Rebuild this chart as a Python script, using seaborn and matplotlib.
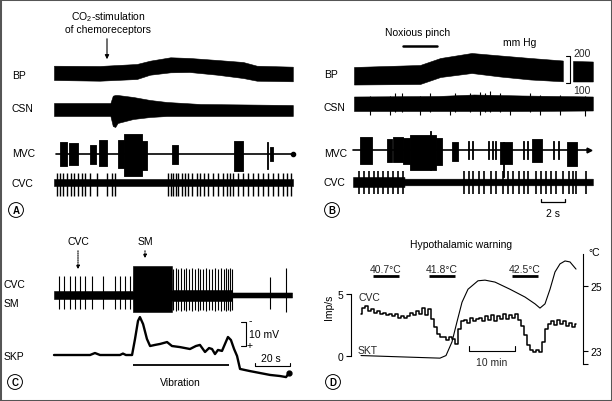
import matplotlib
matplotlib.use("Agg")
import matplotlib.pyplot as plt
from matplotlib.patches import Rectangle
import seaborn as sns

# ------------------------------------------------------------------ data
# Panel A (time in s)
a_bp_t   = [0, 3.8, 6.9, 8.0, 9.7, 11.3, 13.6, 15.75, 16.9, 19.9]
a_bp_sys = [164, 163, 170.4, 182.6, 195.2, 192.6, 185.2, 177.8, 164, 160.4]
a_bp_dia = [111.1, 108.5, 114.8, 130.7, 139.6, 140.7, 130.7, 118.5, 108.5, 106.3]
a_csn_t  = [0, 3.8, 4.7, 4.9, 5.1, 5.3, 6.6, 8.0, 9.4, 12.2, 19.9]
a_csn_up = [6, 6, 6, 13.3, 14, 14, 12, 9, 7, 5, 4]
a_csn_dn = [7, 7, 7, 17, 18, 14, 10, 8, 7, 7, 7]
a_mvc_start = [0.5, 1.25, 3.0, 3.75, 5.33, 5.83, 7.33, 9.83, 15.0, 17.75, 18.0]
a_mvc_end   = [1.08, 2.0, 3.5, 4.42, 5.83, 7.33, 7.75, 10.33, 15.75, 17.83, 18.25]
a_mvc_up    = [12, 11, 9, 14, 14, 20, 13, 9, 13, 12, 7]
a_mvc_dn    = [12, 11, 10, 12, 14, 22, 16, 10, 17, 15, 7]
a_cvc_spikes = [0.25, 0.5, 0.75, 1.08, 1.42, 1.67, 2.0, 2.33, 2.58, 3.0, 3.58,
                4.42, 4.83, 5.08, 9.5, 9.75, 9.92, 10.17, 10.33, 10.67, 10.92,
                11.17, 11.5, 11.92, 12.17, 12.5, 12.83, 13.25, 13.67, 14.08,
                14.42, 14.67, 14.92, 15.33, 15.75, 16.17, 16.58, 17.0, 17.42,
                17.83, 18.25, 18.67, 19.08, 19.42, 19.75]

# Panel B (time in s)
b_bp_t1   = [0, 5.5, 7.2, 9.8, 12.2, 14.7, 17.4]
b_bp_sys1 = [159.3, 166.7, 192.6, 211.1, 201.9, 192.6, 183.3]
b_bp_dia1 = [94.4, 96.3, 122.2, 137.0, 124.0, 113.0, 106.3]
b_bp_t2   = [18.25, 19.9]
b_bp_sys2 = [181.5, 179.6]
b_bp_dia2 = [105.6, 105.6]
b_csn_t  = [0, 7.0, 10.0, 14.0, 19.9]
b_csn_up = [7, 7.5, 9, 8, 7]
b_csn_dn = [7.5, 7.5, 7.5, 7.5, 7]
b_csn_spk_t  = [1.33, 3.0, 3.42, 4.0, 5.5, 6.33, 8.0, 8.42, 9.67, 10.5, 10.92,
                11.33, 12.17, 13.0, 14.67, 15.5, 17.17, 19.25]
b_csn_spk_up = [8, 8, 11, 11, 8, 11, 8, 11, 11, 12, 11, 13, 11, 8, 11, 9, 9, 8]
b_csn_spk_dn = [11, 11, 8, 8, 11, 8, 11, 8, 8, 11, 8, 8, 8, 11, 8, 11, 11, 12]
b_mvc_start = [0.5, 2.75, 3.25, 4.08, 4.67, 6.33, 6.83, 8.17, 9.5, 9.83, 11.17,
               11.5, 11.75, 12.17, 12.42, 14.08, 14.42, 14.83, 16.58, 17.0, 17.75]
b_mvc_end   = [1.5, 3.17, 4.08, 4.67, 6.83, 6.4, 7.33, 8.67, 9.57, 9.9, 11.24,
               11.57, 11.82, 13.17, 12.48, 14.15, 14.49, 15.67, 16.65, 17.07, 18.58]
b_mvc_up    = [12.7, 10.7, 12.7, 12, 15, 19, 12, 7.7, 8.7, 8.7, 8.7,
               8.7, 8.7, 7.7, 7.7, 8.7, 8.7, 10.7, 8.7, 8.7, 7.7]
b_mvc_dn    = [14.3, 12.3, 12.3, 14, 20, 20, 15, 11.3, 9.3, 9.3, 9.3,
               9.3, 9.3, 14.3, 27, 9.3, 9.3, 12.3, 9.3, 9.3, 16.3]
b_cvc_spikes = [0.42, 0.83, 1.25, 1.67, 2.0, 2.42, 2.83, 3.25, 3.67, 4.08,
                9.17, 9.58, 9.92, 10.42, 10.83, 11.42, 11.83, 12.42, 12.83,
                13.25, 13.75, 14.17, 14.5, 15.17, 15.58, 16.0, 16.42, 16.83,
                17.42, 17.92, 18.25, 18.5, 19.33]

# Panel C (time in s, SKP in mV, negative up)
c_env_t  = [0, 45.0, 45.1, 67.4, 67.5, 101.7, 101.8, 136.0]
c_env_up = [4, 4, 29, 29, 5, 5, 2.5, 2.5]
c_env_dn = [4, 4, 17, 17, 6, 6, 2.5, 2.5]
c_spk_t  = [2.86, 5.71, 9.14, 12.0, 14.86, 17.71, 21.71, 28.0, 34.86, 37.71,
            40.57, 43.43, 68.0, 69.7, 70.9, 72.6, 74.3, 75.4, 77.1, 78.9, 80.6,
            82.3, 83.4, 85.1, 86.9, 88.6, 90.3, 92.0, 93.7, 95.4, 97.1, 98.3,
            99.4, 100.6, 101.7, 123.4, 132.6]
c_spk_up = [19, 19, 19, 19, 19, 19, 19, 19, 19, 19, 19, 19, 26, 27, 26, 27,
            26, 27, 26, 27, 26, 27, 26, 26, 27, 26, 26, 27, 26, 27, 26, 27, 26,
            27, 26, 18, 27]
c_spk_dn = [14, 14, 14, 14, 14, 14, 14, 14, 14, 14, 14, 14, 15, 16, 15, 16,
            15, 16, 15, 16, 15, 16, 15, 15, 16, 15, 15, 16, 15, 16, 15, 16, 15,
            16, 15, 14, 17]
c_skp_t = [0, 20.6, 23.4, 26.3, 37.7, 39.4, 41.1, 44.6, 46.3, 48.0, 49.1, 50.9,
           53.1, 54.9, 57.7, 60.6, 64.6, 67.4, 72.0, 77.7, 81.1, 83.4, 86.3,
           88.6, 90.3, 92.0, 93.7, 96.0, 97.7, 99.4, 101.1, 102.9, 104.6,
           106.3, 109.1, 112.0, 117.7, 123.4, 129.1, 132.6, 134.3]
c_skp   = [0, 0, 0.83, 0, 0, 0.6, 0, 0, 6.7, 14.2, 15.8, 12.9, 6.7, 3.75, 4.2,
           4.6, 5.4, 3.75, 3.3, 2.5, 3.75, 4.2, 1.25, 2.9, 2.5, 0.4, 2.1, 1.7,
           4.6, 7.5, 6.25, 2.5, -0.4, -5.8, -6.25, -6.7, -7.5, -8.3, -8.75,
           -9.2, -7.5]
c_vibration = [45.0, 100.0]

# Panel D (time in min)
d_cvc_t = [0.0, 0.65, 1.3, 1.95, 2.6, 3.25, 3.9, 4.55, 5.2, 5.85, 6.5, 7.15,
           7.8, 8.45, 9.1, 9.75, 10.4, 11.05, 11.7, 12.35, 13.0, 13.65, 14.3,
           14.95, 15.6, 16.25, 16.9, 17.55, 18.2, 18.85, 19.5, 20.15, 20.8,
           21.45, 22.1, 22.75, 23.4, 24.05, 24.7, 25.35, 26.0, 26.65, 27.3,
           27.95, 28.6, 29.25, 29.9, 30.55, 31.2, 31.85, 32.5, 33.15, 33.8,
           34.45, 35.1, 35.75, 36.4, 37.05, 37.7, 38.35, 39.0, 39.65, 40.3,
           40.95, 41.6, 42.25, 42.9, 43.55, 44.2, 44.85, 45.5, 46.15, 46.8]
d_cvc   = [3.4, 3.9, 4.0, 3.6, 3.8, 3.5, 3.6, 3.4, 3.5, 3.3, 3.4, 3.2, 3.35,
           3.1, 3.25, 3.05, 3.2, 3.5, 3.3, 3.6, 3.4, 3.9, 3.3, 3.8, 3.0, 2.3,
           1.8, 1.55, 1.5, 1.3, 1.5, 1.35, 1.0, 2.2, 2.8, 2.9, 2.7, 3.1, 2.8,
           3.0, 3.1, 2.8, 3.2, 2.9, 3.3, 2.8, 3.2, 3.0, 3.4, 3.0, 3.3, 3.1,
           3.4, 2.9, 2.4, 1.7, 0.9, 0.45, 0.3, 0.5, 0.3, 1.1, 2.2, 2.6, 2.8,
           2.5, 2.9, 2.6, 2.8, 2.4, 2.7, 2.3, 2.6]
d_skt_t = [0, 8.48, 17.17, 18.48, 19.78, 20.87, 21.96, 23.26, 25.43, 26.96,
           29.13, 32.39, 35.65, 37.83, 38.91, 40.0, 41.09, 42.17, 43.26, 44.35,
           45.43, 46.74]
d_skt   = [22.86, 22.82, 22.78, 22.86, 23.28, 23.9, 24.5, 24.9, 25.16, 25.18,
           25.12, 24.9, 24.66, 24.45, 24.32, 24.45, 24.9, 25.43, 25.68, 25.77,
           25.74, 25.52]
d_warm_labels = ["40.7°C", "41.8°C", "42.5°C"]
d_warm_start  = [2.6, 14.8, 32.8]
d_warm_end    = [8.3, 20.4, 38.5]

# ------------------------------------------------------------------ style
sns.set_theme(style="white")
plt.rcParams["font.family"] = ["Liberation Sans", "DejaVu Sans"]
plt.rcParams["mathtext.fontset"] = "custom"
plt.rcParams["mathtext.rm"] = "Liberation Sans"
FS = 7.5
K = "black"
W, H = 612, 402

fig = plt.figure(figsize=(W / 100, H / 100), dpi=100, facecolor="white")


def px_axes(x0, x1, y0, y1, xlim, ylim):
    ax = fig.add_axes([x0 / W, 1 - y1 / H, (x1 - x0) / W, (y1 - y0) / H])
    ax.set_xlim(*xlim)
    ax.set_ylim(*ylim)
    ax.set_axis_off()
    ax.patch.set_alpha(0)
    return ax


def band(ax, t, up, dn):
    ax.fill_between(t, [-v for v in dn], up, color=K, lw=0.4)


def bursts(ax, st, en, up, dn):
    for s, e, u, d in zip(st, en, up, dn):
        ax.fill_between([s, e], [-d, -d], [u, u], color=K, lw=0.6)


XL_AB = (-4 / 12, 246 / 12)
BP_YL = (70.4, 225.9)

# ---------------- Panel A
ax = px_axes(50, 300, 50, 92, XL_AB, BP_YL)
ax.fill_between(a_bp_t, a_bp_dia, a_bp_sys, color=K, lw=0.4)

ax = px_axes(50, 300, 90, 132, XL_AB, (-22, 20))
band(ax, a_csn_t, a_csn_up, a_csn_dn)

ax = px_axes(50, 300, 128, 182, XL_AB, (-27, 27))
sns.lineplot(x=[a_bp_t[0] + 0.15, a_bp_t[-1]], y=[0, 0], ax=ax, color=K, lw=1.2)
bursts(ax, a_mvc_start, a_mvc_end, a_mvc_up, a_mvc_dn)
ax.plot([a_bp_t[-1]], [0], "o", color=K, ms=3)
ax.set_axis_off()

ax = px_axes(50, 300, 168, 200, XL_AB, (-16.5, 15.5))
band(ax, [0, 19.9], [3.5, 3.5], [3.5, 3.5])
ax.vlines(a_cvc_spikes, -13, 10, color=K, lw=1.0)

# ---------------- Panel B
ax = px_axes(350, 600, 50, 92, XL_AB, BP_YL)
ax.fill_between(b_bp_t1, b_bp_dia1, b_bp_sys1, color=K, lw=0.4)
ax.fill_between(b_bp_t2, b_bp_dia2, b_bp_sys2, color=K, lw=0.4)
ax.plot([17.67, 18.0, 18.0, 17.67], [200, 200, 100, 100], color=K, lw=0.8)
ax.text(18.25, 211, "200", fontsize=FS, ha="left", va="center")
ax.text(18.25, 74, "100", fontsize=FS, ha="left", va="center")

ax = px_axes(350, 600, 88, 122, XL_AB, (-17.5, 16.5))
band(ax, b_csn_t, b_csn_up, b_csn_dn)
ax.vlines(b_csn_spk_t, [-v for v in b_csn_spk_dn], b_csn_spk_up, color=K, lw=0.8)

ax = px_axes(350, 600, 125, 182, XL_AB, (-31.3, 25.7))
sns.lineplot(x=[-0.08, 19.6], y=[0, 0], ax=ax, color=K, lw=1.2)
bursts(ax, b_mvc_start, b_mvc_end, b_mvc_up, b_mvc_dn)
ax.plot([19.6], [0], ">", color=K, ms=3.5)
ax.set_axis_off()

ax = px_axes(350, 600, 165, 210, XL_AB, (-27, 18))
band(ax, [-0.08, 4.2, 4.21, 19.9], [5, 5, 3.3, 3.3], [5, 5, 3.3, 3.3])
ax.vlines(b_cvc_spikes, -12, 11, color=K, lw=1.2)
ax.plot([15.58, 15.58, 17.58, 17.58], [-16.5, -20, -20, -16.5], color=K, lw=0.9)

# ---------------- Panel C
XL_C = (-4 / 1.75, 246 / 1.75)
ax = px_axes(50, 300, 262, 318, XL_C, (-22, 34))
band(ax, c_env_t, c_env_up, c_env_dn)
ax.vlines(c_spk_t, [-v for v in c_spk_dn], c_spk_up, color=K, lw=0.8)

ax = px_axes(50, 300, 310, 385, XL_C, (-12.08, 19.17))
sns.lineplot(x=c_skp_t, y=c_skp, ax=ax, color=K, lw=1.7)
ax.plot([c_skp_t[-1]], [c_skp[-1]], "o", color=K, ms=3.5)
ax.hlines(-4.2, c_vibration[0], c_vibration[1], color=K, lw=1.3)
ax.plot([106.9, 109.7, 109.7, 106.9], [13.75, 13.75, 3.75, 3.75], color=K, lw=0.8)
ax.plot([114.9, 114.9, 134.9, 134.9], [-3.3, -4.6, -4.6, -3.3], color=K, lw=0.8)
ax.set_axis_off()

# ---------------- Panel D
axd = fig.add_axes([351 / W, 1 - 370 / H, 232 / W, 120 / H])
axd.patch.set_alpha(0)
sns.lineplot(x=d_cvc_t, y=d_cvc, ax=axd, color=K, lw=1.1, drawstyle="steps-mid")
axd.set_xlim(-10 / 4.6, 222 / 4.6)
axd.set_ylim(-1.048, 8.629)
for s in ["top", "bottom", "right"]:
    axd.spines[s].set_visible(False)
axd.spines["left"].set_bounds(0, 5)
axd.spines["left"].set_color(K)
axd.spines["left"].set_linewidth(0.8)
axd.set_xticks([])
axd.set_yticks([0, 5])
axd.tick_params(axis="y", left=True, length=3.6, width=0.8, labelsize=FS, pad=2,
                colors=K)
axd.set_xlabel("")
axd.set_ylabel("Imp/s", fontsize=FS, color=K)
axd.yaxis.set_label_coords(-0.075, 0.52)
axd.hlines([6.45 for _ in d_warm_start], d_warm_start, d_warm_end, color=K, lw=2.0)
for lab, s, e in zip(d_warm_labels, d_warm_start, d_warm_end):
    axd.text((s + e) / 2, 7.05, lab, fontsize=FS, ha="center", va="center")
axd.text(-0.65, 4.76, "CVC", fontsize=FS, ha="left", va="center")
axd.text(-0.65, 0.45, "SKT", fontsize=FS, ha="left", va="center")
axd.plot([23.5, 23.5, 33.5, 33.5], [0.8, 0.4, 0.4, 0.8], color=K, lw=0.8)
axd.text(28.5, -0.5, "10 min", fontsize=FS, ha="center", va="center")

axr = axd.twinx()
sns.lineplot(x=d_skt_t, y=d_skt, ax=axr, color=K, lw=0.8)
axr.set_ylim(22.446, 26.138)
for s in ["top", "bottom", "left"]:
    axr.spines[s].set_visible(False)
axr.spines["right"].set_bounds(22.6, 25.98)
axr.spines["right"].set_color(K)
axr.spines["right"].set_linewidth(0.8)
axr.set_yticks([23, 25])
axr.set_yticks([22.6], minor=True)
axr.tick_params(axis="y", which="both", right=True, length=3.6, width=0.8,
                labelsize=FS, pad=2, colors=K)
axr.set_ylabel("")
axr.set_xlabel("")

# ---------------- overlay: labels & annotations (pixel frame)
ov = fig.add_axes([0, 0, 1, 1])
ov.set_xlim(0, W)
ov.set_ylim(H, 0)
ov.set_axis_off()
ov.patch.set_alpha(0)


def t(x, y, s, ha="left", **kw):
    ov.text(x, y, s, fontsize=FS, ha=ha, va="center", color=K, **kw)


for lab, y in zip(["BP", "CSN", "MVC", "CVC"], [76, 109, 154, 184]):
    t(12, y, lab)
for lab, y in zip(["BP", "CSN", "MVC", "CVC"], [75, 108, 154, 183]):
    t(324, y, lab)

t(108, 17, r"CO$_\mathrm{2}$-stimulation", ha="center")
t(108, 30, "of chemoreceptors", ha="center")
ov.annotate("", xy=(107, 63), xytext=(107, 37),
            arrowprops=dict(arrowstyle="-|>", lw=0.8, color=K, mutation_scale=6))

t(418, 33, "Noxious pinch", ha="center")
ov.plot([403, 437], [47, 47], color=K, lw=1.8)
t(520, 43, "mm Hg", ha="center")
t(553, 214, "2 s", ha="center")

t(78, 242, "CVC", ha="center")
t(145, 242, "SM", ha="center")
for x, y1 in [(78, 273), (145, 262)]:
    ov.annotate("", xy=(x, y1), xytext=(x, 249),
                arrowprops=dict(arrowstyle="-|>", lw=0.8, color=K,
                                linestyle=(0, (1, 1)), mutation_scale=5))
t(4, 285, "CVC")
t(4, 304, "SM")
t(4, 357, "SKP")
t(249, 321, "-")
t(247, 346, "+")
t(249, 335, "10 mV")
t(271, 359, "20 s", ha="center")
t(180, 383, "Vibration", ha="center")

t(461, 245, "Hypothalamic warning", ha="center")
t(588, 253, "°C")

for lab, (x, y) in zip("ABCD", [(16, 211), (332, 211), (15, 383), (333, 383)]):
    ov.text(x, y, lab, fontsize=7, ha="center", va="center", color=K,
            fontweight="bold",
            bbox=dict(boxstyle="circle,pad=0.25", fc="white", ec=K, lw=0.7))

fig.patches.append(Rectangle((0, 0), 1, 1, transform=fig.transFigure,
                             fill=False, ec="#555555", lw=2.2))

fig.savefig("out.png", dpi=100, facecolor="white")
